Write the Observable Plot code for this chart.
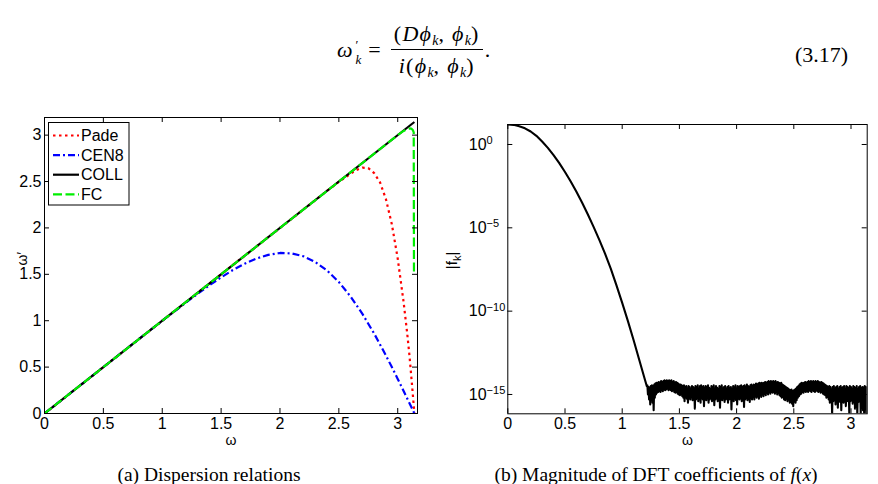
<!DOCTYPE html>
<html><head><meta charset="utf-8">
<script src="https://cdn.jsdelivr.net/npm/d3@7"></script>
<script src="https://cdn.jsdelivr.net/npm/@observablehq/plot@0.6"></script>
<style>
body{margin:0;background:#fff;}
#page{position:relative;width:878px;height:484px;overflow:hidden;background:#fff;color:#000;}
.abs{position:absolute;}
.serif{font-family:"Liberation Serif","DejaVu Serif",serif;}
.frac{display:inline-flex;flex-direction:column;align-items:center;vertical-align:middle;margin:0 2px;letter-spacing:1.3px;}
.num{border-bottom:1.2px solid #000;padding:0 3px 2px 3px;line-height:26px;}
.den{padding:3px 3px 0 3px;line-height:26px;}
sub{font-size:14px;vertical-align:-4px;line-height:0;letter-spacing:0;}
.ss{display:inline-flex;flex-direction:column;font-size:13px;line-height:15px;margin-left:3px;margin-top:4px;}
</style></head>
<body><div id="page">
<div id="eq" class="abs serif" style="left:337px;top:21px;font-size:22px;display:flex;align-items:center;white-space:nowrap;">
  <span><i>ω</i></span><span class="ss"><span>′</span><span><i>k</i></span></span>
  <span style="margin:0 8px 0 7px;">=</span>
  <span class="frac"><span class="num">(<i>D</i><i>ϕ</i><sub><i>k</i></sub>, <i>ϕ</i><sub><i>k</i></sub>)</span><span class="den"><i>i</i>(<i>ϕ</i><sub><i>k</i></sub>, <i>ϕ</i><sub><i>k</i></sub>)</span></span><span>.</span>
</div>
<div class="abs serif" style="left:795px;top:42px;font-size:22px;">(3.17)</div>
<div id="left" class="abs" style="left:0;top:110px;"></div>
<div id="right" class="abs" style="left:440px;top:110px;"></div>
<div id="legend" class="abs" style="left:48px;top:122px;"></div>
<div class="abs serif" style="left:0;width:418px;top:464px;text-align:center;font-size:19.5px;">(a) Dispersion relations</div>
<div class="abs serif" style="left:436px;width:440px;top:464px;text-align:center;font-size:19.5px;">(b) Magnitude of DFT coefficients of <i>f</i>(<i>x</i>)</div>
</div>
<script>
// ---------- data: panel (a) dispersion relations ----------
const omegaTicks = [0, 0.5, 1, 1.5, 2, 2.5, 3];
const dispYTicks = [0, 0.5, 1, 1.5, 2, 2.5, 3];
const seriesNames = ["Pade", "CEN8", "COLL", "FC"];
const seriesColors = ["#ff0000", "#0000ff", "#000000", "#00ee00"];
const seriesDash = ["2.5,3.5", "7,3,2,3", null, "9,3.5"];

const padeOmega = [0, 1, 2, 2.4, 2.5, 2.55, 2.6, 2.65, 2.7, 2.75, 2.8, 2.85, 2.9, 2.95, 3.0, 3.05, 3.08, 3.1, 3.12, 3.1416];
const padeVal   = [0, 1, 2, 2.4, 2.497, 2.54, 2.585, 2.625, 2.65, 2.645, 2.59, 2.49, 2.31, 2.04, 1.67, 1.2, 0.87, 0.62, 0.33, 0];

const cen8Omega = [0, 0.2, 0.4, 0.6, 0.8, 1.0, 1.1, 1.2, 1.3, 1.4, 1.5, 1.6, 1.7, 1.8, 1.9, 2.0, 2.1, 2.2, 2.3, 2.4, 2.5, 2.6, 2.7, 2.8, 2.9, 2.95, 3.0, 3.05, 3.1, 3.1416];
const cen8Val   = [0, 0.2, 0.4, 0.6, 0.8, 0.999, 1.097, 1.194, 1.289, 1.381, 1.467, 1.546, 1.615, 1.670, 1.710, 1.730, 1.725, 1.694, 1.633, 1.541, 1.417, 1.260, 1.074, 0.861, 0.625, 0.500, 0.373, 0.242, 0.110, 0];

const collOmega = [0, 3.1416];
const collVal   = [0, 3.1416];

const fcOmega = [0, 1, 2, 3, 3.05, 3.08, 3.1, 3.115, 3.128, 3.136, 3.138];
const fcVal   = [0, 1, 2, 3, 3.045, 3.065, 3.072, 3.07, 3.055, 3.03, 1.52];

// ---------- data: panel (b) |f_k| (log10 values) ----------
const fkYTicks = [1, 1e-5, 1e-10, 1e-15];
const fkSmoothOmega = [0, 0.05, 0.1, 0.15, 0.2, 0.25, 0.3, 0.35, 0.4, 0.45, 0.5, 0.55, 0.6, 0.65, 0.7, 0.75, 0.8, 0.85, 0.9, 0.95, 1.0, 1.05, 1.1, 1.15, 1.2, 1.215];
const fkSmoothLog   = [1.2, 1.18, 1.1, 0.97, 0.78, 0.52, 0.18, -0.2, -0.64, -1.12, -1.65, -2.22, -2.84, -3.5, -4.2, -4.94, -5.72, -6.55, -7.45, -8.45, -9.5, -10.6, -11.75, -12.95, -14.15, -14.5];
const fkFloorStart = 1.22, fkFloorStep = 0.01;
const fkFloorTop = [
 -14.45,-14.55,-14.6,-14.5,-14.45,-14.5,-14.4,-14.35,-14.3,-14.3,
 -14.25,-14.3,-14.2,-14.25,-14.2,-14.15,-14.2,-14.15,-14.2,-14.15,
 -14.2,-14.15,-14.25,-14.2,-14.3,-14.25,-14.3,-14.35,-14.4,-14.4,
 -14.45,-14.5,-14.45,-14.6,-14.5,-14.65,-14.5,-14.55,-14.7,-14.5,
 -14.55,-14.65,-14.5,-14.6,-14.45,-14.7,-14.5,-14.45,-14.6,-14.5,
 -14.65,-14.5,-14.55,-14.45,-14.6,-14.7,-14.5,-14.55,-14.45,-14.65,
 -14.5,-14.6,-14.7,-14.5,-14.55,-14.45,-14.65,-14.55,-14.5,-14.7,
 -14.55,-14.5,-14.65,-14.55,-14.7,-14.5,-14.6,-14.45,-14.65,-14.5,
 -14.55,-14.5,-14.45,-14.6,-14.5,-14.45,-14.55,-14.4,-14.5,-14.55,
 -14.45,-14.4,-14.5,-14.4,-14.45,-14.35,-14.4,-14.35,-14.3,-14.35,
 -14.3,-14.35,-14.3,-14.25,-14.3,-14.25,-14.2,-14.25,-14.2,-14.25,
 -14.2,-14.25,-14.2,-14.3,-14.25,-14.3,-14.35,-14.3,-14.4,-14.45,
 -14.5,-14.55,-14.6,-14.65,-14.7,-14.75,-14.7,-14.8,-14.75,-14.7,
 -14.65,-14.55,-14.5,-14.4,-14.35,-14.3,-14.35,-14.3,-14.25,-14.3,
 -14.25,-14.2,-14.25,-14.2,-14.25,-14.2,-14.25,-14.2,-14.25,-14.2,
 -14.25,-14.3,-14.25,-14.3,-14.35,-14.4,-14.45,-14.5,-14.55,-14.5,
 -14.55,-14.7,-14.55,-14.5,-14.65,-14.55,-14.5,-14.7,-14.55,-14.5,
 -14.65,-14.55,-14.5,-14.7,-14.5,-14.55,-14.65,-14.5,-14.55,-14.7,
 -14.5,-14.55,-14.65,-14.5,-14.7,-14.55,-14.5,-14.65,-14.55,-14.6,
 -14.5,-14.55,-14.6];
const fkFloorBottom = [
 -15.0,-15.3,-15.6,-15.2,-15.5,-15.95,-15.2,-15.0,-14.9,-14.85,
 -14.8,-14.85,-14.75,-14.8,-14.7,-14.75,-14.7,-14.65,-14.75,-14.7,
 -14.75,-14.8,-14.75,-14.85,-14.9,-14.85,-14.95,-15.0,-15.05,-15.0,
 -15.1,-15.2,-15.4,-15.15,-15.25,-15.5,-15.2,-15.3,-15.15,-15.35,
 -15.25,-15.85,-15.3,-15.2,-15.4,-15.25,-15.5,-15.2,-15.3,-15.7,
 -15.25,-15.35,-15.2,-15.5,-15.3,-15.2,-15.4,-15.25,-15.65,-15.3,
 -15.2,-15.4,-15.3,-15.8,-15.25,-15.35,-15.2,-15.45,-15.3,-15.25,
 -15.5,-15.3,-15.2,-15.9,-15.3,-15.4,-15.25,-15.35,-15.6,-15.25,
 -15.3,-15.2,-15.4,-15.25,-15.75,-15.3,-15.2,-15.35,-15.25,-15.45,
 -15.2,-15.3,-15.15,-15.3,-15.1,-15.2,-15.1,-15.25,-15.05,-15.15,
 -15.0,-15.1,-14.95,-15.05,-14.9,-15.0,-14.85,-14.95,-14.85,-14.9,
 -14.85,-14.95,-14.85,-15.0,-14.9,-15.05,-15.1,-15.2,-15.15,-15.3,
 -15.35,-15.25,-15.4,-15.3,-15.5,-15.45,-15.55,-15.7,-15.4,-15.5,
 -15.35,-15.2,-15.1,-15.0,-14.95,-14.85,-14.9,-14.8,-14.85,-14.8,
 -14.85,-14.75,-14.8,-14.85,-14.75,-14.8,-14.85,-14.75,-14.8,-14.85,
 -14.8,-14.9,-14.85,-14.95,-15.0,-15.05,-15.2,-15.15,-15.3,-15.5,
 -15.25,-16.16,-15.4,-15.3,-15.6,-15.35,-15.8,-15.25,-15.45,-15.95,
 -15.35,-15.5,-15.3,-15.7,-15.4,-15.25,-16.16,-15.4,-15.3,-15.55,
 -15.4,-15.85,-15.3,-16.16,-15.45,-15.35,-16.16,-15.5,-15.95,-16.16,
 -15.6,-16.16,-15.5];

// ---------- build tables ----------
const rows = (xs, ys) => xs.map((x, i) => ({x, y: ys[i]}));
const dispSeries = [rows(padeOmega, padeVal), rows(cen8Omega, cen8Val), rows(collOmega, collVal), rows(fcOmega, fcVal)];

const fkRows = rows(fkSmoothOmega, fkSmoothLog).map(d => ({x: d.x, y: Math.pow(10, d.y)}));
fkFloorTop.forEach((t, i) => {
  const x = fkFloorStart + i * fkFloorStep;
  fkRows.push({x, y: Math.pow(10, t)});
  fkRows.push({x: x + fkFloorStep / 2, y: Math.pow(10, fkFloorBottom[i])});
});

const font = {fontFamily: "Liberation Sans, Arial, sans-serif", fontSize: "16px", background: "transparent", color: "black", overflow: "visible"};
const tickLen = 5;
const tickFs = 16;

// ---------- panel (a) ----------
const LW = 440, LH = 340, LML = 44, LMR = 23, LMT = 7, LMB = 37;
const lfw = LW - LML - LMR, lfh = LH - LMT - LMB;
const left = Plot.plot({
  width: LW, height: LH, marginLeft: LML, marginRight: LMR, marginTop: LMT, marginBottom: LMB,
  style: font,
  x: {domain: [0, 3.168], label: null},
  y: {domain: [0, 3.19], label: null},
  marks: [
    ...dispSeries.map((s, i) => Plot.line(s, {x: "x", y: "y", stroke: seriesColors[i], strokeWidth: 2.2,
        strokeDasharray: seriesDash[i] || undefined, strokeLinecap: "butt", clip: true})),
    Plot.frame({stroke: "black", strokeWidth: 1}),
    Plot.gridX(omegaTicks, {stroke: "black", strokeOpacity: 1, insetTop: lfh - tickLen}),
    Plot.gridX(omegaTicks, {stroke: "black", strokeOpacity: 1, insetBottom: lfh - tickLen}),
    Plot.gridY(dispYTicks, {stroke: "black", strokeOpacity: 1, insetRight: lfw - tickLen}),
    Plot.gridY(dispYTicks, {stroke: "black", strokeOpacity: 1, insetLeft: lfw - tickLen}),
    Plot.axisX(omegaTicks, {tickSize: 0, tickPadding: 4, label: null, fontSize: tickFs, tickFormat: d => String(d)}),
    Plot.axisY(dispYTicks, {tickSize: 0, tickPadding: 3, label: null, fontSize: tickFs, tickFormat: d => String(d)}),
    Plot.text(["ω"], {frameAnchor: "bottom", dy: 31, fontSize: 14}),
    Plot.text(["ω′"], {frameAnchor: "left", dx: -22, rotate: -90, fontSize: 14})
  ]
});
document.getElementById("left").appendChild(left);

// ---------- panel (b) ----------
const RW = 438, RH = 340, RML = 67.3, RMR = 11.3, RMT = 14, RMB = 36.7;
const rfw = RW - RML - RMR, rfh = RH - RMT - RMB;
const right = Plot.plot({
  width: RW, height: RH, marginLeft: RML, marginRight: RMR, marginTop: RMT, marginBottom: RMB,
  style: font,
  x: {domain: [0, Math.PI], label: null},
  y: {type: "log", domain: [Math.pow(10, -16.16), Math.pow(10, 1.2)], label: null},
  marks: [
    Plot.line(fkRows, {x: "x", y: "y", stroke: "black", strokeWidth: 2.1, clip: true}),
    Plot.frame({stroke: "black", strokeWidth: 1}),
    Plot.gridX(omegaTicks, {stroke: "black", strokeOpacity: 1, insetTop: rfh - tickLen}),
    Plot.gridX(omegaTicks, {stroke: "black", strokeOpacity: 1, insetBottom: rfh - tickLen}),
    Plot.gridY(fkYTicks, {stroke: "black", strokeOpacity: 1, insetRight: rfw - tickLen}),
    Plot.gridY(fkYTicks, {stroke: "black", strokeOpacity: 1, insetLeft: rfw - tickLen}),
    Plot.axisX(omegaTicks, {tickSize: 0, tickPadding: 4, label: null, fontSize: tickFs, tickFormat: d => String(d)}),
    Plot.axisY(fkYTicks, {tickSize: 0, tickPadding: 39, textAnchor: "start", label: null, fontSize: tickFs,
        tickFormat: d => "10^" + Math.round(Math.log10(d))}),
    Plot.text(["ω"], {frameAnchor: "bottom", dy: 31, fontSize: 14}),
    Plot.text(["|fk|"], {frameAnchor: "left", dx: -56, rotate: -90, fontSize: 15, className: "fklab"})
  ]
});
document.getElementById("right").appendChild(right);

// superscripts for log tick labels
d3.select(right).selectAll('g[aria-label="y-axis tick label"] text').each(function () {
  const s = this.textContent;
  if (s.indexOf("^") < 0) return;
  const [b, e] = s.split("^");
  const el = d3.select(this);
  el.text(b);
  el.append("tspan").attr("dy", "-0.5em").attr("font-size", "11px").text(e.replace("-", "−"));
});
// subscript k in |f_k|
d3.select(right).selectAll(".fklab text").each(function () {
  const el = d3.select(this);
  el.text("|f");
  el.append("tspan").attr("dy", "4").attr("font-size", "11px").text("k");
  el.append("tspan").attr("dy", "-4").text("|");
});

// ---------- legend ----------
const lg = d3.select("#legend").append("svg").attr("width", 82).attr("height", 84)
  .style("font-family", "Liberation Sans, Arial, sans-serif").style("font-size", "16px");
lg.append("rect").attr("x", 0.5).attr("y", 0.5).attr("width", 80.5).attr("height", 82.5)
  .attr("fill", "white").attr("stroke", "black");
seriesNames.forEach((n, i) => {
  const yy = 13.5 + i * 19.6;
  lg.append("line").attr("x1", 5).attr("x2", 31).attr("y1", yy).attr("y2", yy)
    .attr("stroke", seriesColors[i]).attr("stroke-width", 2.2)
    .attr("stroke-dasharray", seriesDash[i]);
  lg.append("text").attr("x", 33).attr("y", yy).attr("dy", "0.36em").text(n);
});
</script>
</body></html>
